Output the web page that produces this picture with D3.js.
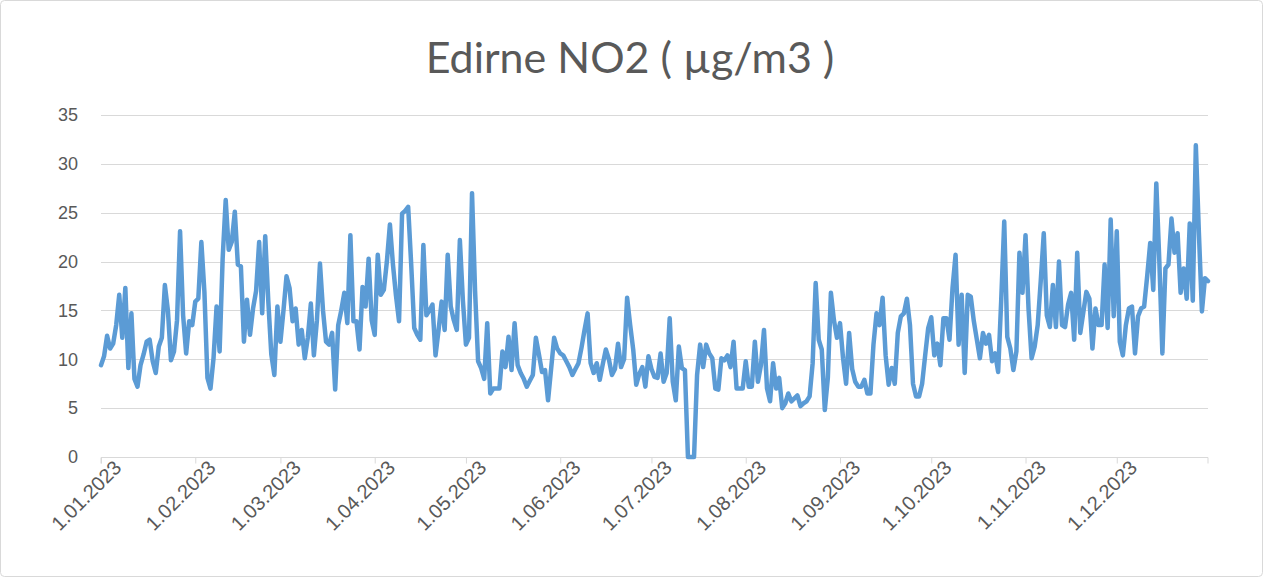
<!DOCTYPE html>
<html>
<head>
<meta charset="utf-8">
<script src="https://cdn.jsdelivr.net/npm/d3@7"></script>
<style>
  body { margin: 0; background: #fff; }
  svg { display: block; font-family: Lato, "Liberation Sans", sans-serif; }
</style>
</head>
<body>
<svg id="chart"></svg>
<script>
const svgWidth = 1264;
const svgHeight = 578;

const chartTitle = 'Edirne NO2 ( µg/m3 )';
const startDate = '2023-01-01';
const endDate = '2023-12-31';
const yTicks = [0, 5, 10, 15, 20, 25, 30, 35];

// daily values, 1 Jan .. 31 Dec 2023
const no2 = [
  9.4, 10.3, 12.4, 11.1, 11.6, 13.5, 16.6, 12.2, 17.3, 9.1,
  14.7, 8.0, 7.2, 9.4, 10.5, 11.8, 12.0, 9.8, 8.6, 11.3,
  12.2, 17.6, 15.0, 9.9, 10.8, 14.0, 23.1, 14.5, 10.6, 13.9,
  13.5, 15.9, 16.2, 22.0, 16.9, 8.1, 7.0, 10.1, 15.4, 10.8,
  20.3, 26.3, 21.2, 22.0, 25.1, 19.7, 19.5, 11.8, 16.1, 12.5,
  15.2, 17.0, 22.0, 14.7, 22.6, 16.0, 10.5, 8.4, 15.4, 11.8,
  15.0, 18.5, 17.3, 13.9, 15.2, 11.5, 13.0, 10.1, 12.2, 15.7,
  10.4, 14.0, 19.8, 15.0, 11.8, 11.5, 12.7, 6.9, 13.5, 15.0,
  16.8, 13.7, 22.7, 13.9, 13.9, 11.0, 17.4, 15.4, 20.3, 14.0,
  12.5, 20.7, 16.6, 17.1, 20.0, 23.8, 19.7, 16.5, 13.9, 24.9,
  25.2, 25.6, 19.7, 13.2, 12.5, 12.0, 21.7, 14.5, 15.0, 15.6,
  10.4, 13.0, 15.9, 13.0, 20.7, 15.4, 14.0, 13.0, 22.2, 16.0,
  11.5, 12.2, 27.0, 17.0, 9.8, 9.1, 8.0, 13.7, 6.5, 7.0,
  7.0, 7.0, 10.8, 9.2, 12.3, 8.9, 13.7, 9.4, 8.6, 8.0,
  7.2, 7.8, 8.4, 12.2, 10.5, 8.7, 8.9, 5.8, 9.0, 12.2,
  11.1, 10.6, 10.4, 9.8, 9.2, 8.4, 9.0, 9.6, 11.2, 13.0,
  14.7, 9.6, 8.6, 9.6, 7.9, 9.5, 11.0, 10.0, 8.4, 9.0,
  11.6, 9.2, 10.0, 16.3, 13.5, 11.0, 7.4, 8.5, 9.2, 7.2,
  10.3, 9.0, 8.2, 8.1, 10.6, 7.7, 8.6, 14.2, 7.7, 5.8,
  11.3, 9.1, 8.9, 0, 0, 0, 8.4, 11.5, 9.2, 11.5,
  10.6, 10.1, 7.0, 6.9, 10.1, 9.9, 10.4, 9.2, 11.8, 7.0,
  7.0, 7.0, 9.8, 7.2, 7.2, 11.8, 7.7, 9.4, 13.0, 7.0,
  5.7, 9.6, 7.0, 8.1, 5.0, 5.5, 6.5, 5.7, 6.0, 6.3,
  5.2, 5.5, 5.7, 6.2, 9.6, 17.8, 12.0, 11.0, 4.8, 8.1,
  16.8, 14.0, 12.2, 13.7, 10.1, 7.5, 12.7, 9.0, 7.7, 7.2,
  7.2, 7.9, 6.5, 6.5, 11.5, 14.7, 13.5, 16.3, 10.4, 7.4,
  9.1, 7.5, 12.7, 14.4, 14.7, 16.2, 13.5, 7.5, 6.2, 6.2,
  7.5, 10.4, 13.2, 14.3, 10.4, 11.6, 9.4, 14.2, 14.2, 12.0,
  17.3, 20.7, 11.5, 16.6, 8.6, 16.6, 16.4, 13.9, 12.0, 10.1,
  12.7, 11.6, 12.5, 9.8, 10.6, 8.7, 16.0, 24.1, 12.3, 11.1,
  8.9, 10.8, 20.9, 16.8, 22.7, 15.1, 10.1, 11.3, 13.5, 18.0,
  22.9, 14.5, 13.3, 17.6, 13.3, 20.0, 13.5, 13.3, 15.6, 16.8,
  12.0, 20.9, 12.7, 14.8, 16.9, 16.2, 11.1, 15.2, 13.5, 13.5,
  19.7, 13.2, 24.3, 14.4, 23.1, 11.8, 10.4, 13.5, 15.2, 15.4,
  10.6, 14.4, 15.2, 15.4, 18.5, 21.9, 17.1, 28.0, 20.0, 10.6,
  19.3, 19.7, 24.4, 20.9, 22.9, 16.8, 19.3, 16.2, 23.9, 16.0,
  31.9, 23.0, 14.9, 18.3, 18.0
];

const margin = { top: 115, right: 56, bottom: 121, left: 101 };

const svg = d3.select('#chart')
  .attr('width', svgWidth)
  .attr('height', svgHeight);

// outer frame
svg.append('rect')
  .attr('x', 0.5).attr('y', 0.5)
  .attr('width', svgWidth - 2).attr('height', svgHeight - 2)
  .attr('rx', 4)
  .attr('fill', '#fff')
  .attr('stroke', '#d9d9d9');

const parse = d3.timeParse('%Y-%m-%d');
const days = d3.timeDay.range(parse(startDate), d3.timeDay.offset(parse(endDate), 1));
const data = days.map((d, i) => ({ date: d, value: no2[i] }));

const x = d3.scaleTime()
  .domain([parse(startDate), parse(endDate)])
  .range([margin.left, svgWidth - margin.right]);

const y = d3.scaleLinear()
  .domain([0, 35])
  .range([svgHeight - margin.bottom, margin.top]);

// gridlines
svg.append('g')
  .selectAll('line')
  .data(yTicks.filter(t => t > 0))
  .join('line')
  .attr('x1', margin.left).attr('x2', svgWidth - margin.right)
  .attr('y1', d => Math.round(y(d)) + 0.5).attr('y2', d => Math.round(y(d)) + 0.5)
  .attr('stroke', '#d9d9d9')
  .attr('stroke-width', 1);

// y axis labels
const yAxis = svg.append('g')
  .attr('transform', `translate(${margin.left},0)`)
  .call(d3.axisLeft(y).tickValues(yTicks).tickSize(0).tickPadding(23));
yAxis.select('.domain').remove();
yAxis.selectAll('text')
  .attr('fill', '#595959')
  .style('font-size', '18px');

// x axis
const monthTicks = d3.timeMonth.range(parse(startDate), d3.timeDay.offset(parse(endDate), 1));
const xAxis = svg.append('g')
  .attr('transform', `translate(0,${Math.round(y(0)) + 0.5})`)
  .call(d3.axisBottom(x)
    .tickValues(monthTicks)
    .tickFormat(d3.timeFormat('%-d.%m.%Y'))
    .tickSize(6));
xAxis.select('.domain').attr('stroke', '#d9d9d9').attr('d', `M${margin.left},6V0H${svgWidth - margin.right}V6`);
xAxis.selectAll('.tick line').attr('stroke', '#d9d9d9');
xAxis.selectAll('.tick text')
  .attr('fill', '#595959')
  .style('font-size', '20px')
  .attr('text-anchor', 'end')
  .attr('dx', '7px')
  .attr('dy', '14px')
  .attr('transform', 'rotate(-45)');

// line
const line = d3.line()
  .x(d => x(d.date))
  .y(d => y(d.value));

svg.append('path')
  .datum(data)
  .attr('fill', 'none')
  .attr('stroke', '#5b9bd5')
  .attr('stroke-width', 4.5)
  .attr('stroke-linejoin', 'round')
  .attr('stroke-linecap', 'round')
  .attr('d', line);

// title
svg.append('text')
  .attr('x', 630)
  .attr('y', 73)
  .attr('text-anchor', 'middle')
  .attr('fill', '#595959')
  .style('font-size', '43px')
  .text(chartTitle);
</script>
</body>
</html>
